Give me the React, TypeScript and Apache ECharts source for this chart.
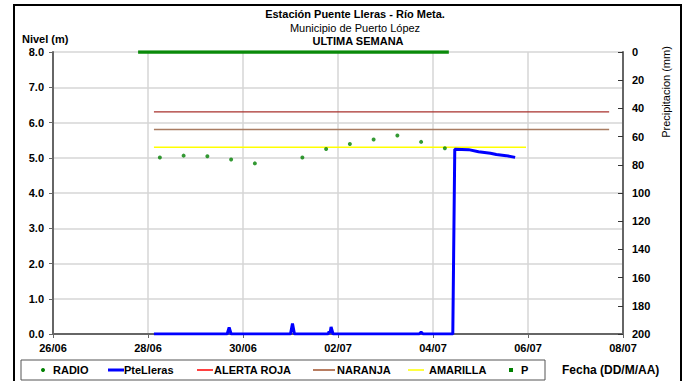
import React, { useEffect, useRef } from "react";
import * as echarts from "echarts";

const FONT = "'Liberation Sans', Arial, sans-serif";

// X axis tick labels (every 2 days from 26/06)
const xTickLabels = ["26/06", "28/06", "30/06", "02/07", "04/07", "06/07", "08/07"];

// RADIO readings (m)
const radioTimes = [
  "28/06 06:00", "28/06 18:00", "29/06 06:00", "29/06 18:00", "30/06 06:00",
  "01/07 06:00", "01/07 18:00", "02/07 06:00", "02/07 18:00", "03/07 06:00",
  "03/07 18:00", "04/07 06:00",
];
const radioValues = [5.01, 5.06, 5.04, 4.95, 4.84, 5.01, 5.25, 5.39, 5.52, 5.63, 5.45, 5.27];

// PteLleras sensor level (m)
const levelTimes = [
  "28/06 03:00", "29/06 16:00", "29/06 17:00", "29/06 18:00", "01/07 00:00",
  "01/07 01:00", "01/07 02:00", "01/07 19:00", "01/07 19:30", "01/07 20:00",
  "01/07 20:30", "01/07 21:30", "03/07 17:00", "03/07 18:00", "03/07 19:00",
  "04/07 10:00", "04/07 11:00", "04/07 18:00", "04/07 23:00", "05/07 05:00",
  "05/07 08:00", "05/07 13:00", "05/07 17:30",
];
const levelValues = [
  0, 0, 0.19, 0, 0,
  0.3, 0, 0, 0.07, 0.03,
  0.2, 0, 0, 0.05, 0,
  0, 5.24, 5.23, 5.17, 5.13,
  5.09, 5.06, 5.01,
];

// Alert thresholds (m)
const alertaRoja = 6.3;
const naranja = 5.8;
const amarilla = 5.3;
const alertStart = "28/06 03:00";
const rojaEnd = "07/07 17:00";
const naranjaEnd = "07/07 17:00";
const amarillaEnd = "05/07 23:00";

// Precipitation P (mm)
const pTimes = ["27/06 19:00", "04/07 08:00"];
const pValues = [0, 0];

// day offset from 26/06 00:00
const dayOf = (s: string): number => {
  const [d, t] = s.split(" ");
  const [dd, mm] = d.split("/").map(Number);
  const [hh, mi] = (t || "00:00").split(":").map(Number);
  const base = mm === 6 ? dd - 26 : dd + 4;
  return base + (hh + mi / 60) / 24;
};

const pairs = (times: string[], vals: number[]) => times.map((t, i) => [dayOf(t), vals[i]]);

export default function App() {
  const ref = useRef<HTMLDivElement>(null);
  useEffect(() => {
    document.body.style.margin = "0";
    const chart = echarts.init(ref.current!, null, { renderer: "svg" });
    const axisLabel = { fontFamily: FONT, fontSize: 11, fontWeight: "bold", color: "#000" };
    const gridLine = { show: true, lineStyle: { color: "#d6d6d6", width: 1.5 } };
    const axisLine = { show: true, lineStyle: { color: "#666", width: 2 } };
    const legendY = 370;
    const legendText = (x: number, text: string) => ({
      type: "text", x, y: legendY,
      style: { text, font: `bold 11px ${FONT}`, fill: "#000", textVerticalAlign: "middle" },
    });
    const legendLine = (x1: number, x2: number, color: string, w: number) => ({
      type: "line", shape: { x1, y1: legendY, x2, y2: legendY },
      style: { stroke: color, lineWidth: w },
    });
    chart.setOption({
      animation: false,
      backgroundColor: "#fff",
      grid: { left: 53, right: 63, top: 52, bottom: 47, containLabel: false },
      xAxis: {
        type: "value", min: 0, max: 12, interval: 2,
        axisLine, axisTick: { show: true, length: 4, lineStyle: { color: "#666" } },
        axisLabel: { ...axisLabel, margin: 8, formatter: (v: number) => xTickLabels[Math.round(v / 2)] ?? "" },
        splitLine: gridLine,
      },
      yAxis: [
        {
          type: "value", min: 0, max: 8, interval: 1,
          axisLine, axisTick: { show: true, length: 4, lineStyle: { color: "#666" } },
          axisLabel: { ...axisLabel, margin: 9, formatter: (v: number) => v.toFixed(1) },
          splitLine: gridLine,
        },
        {
          type: "value", min: 0, max: 200, interval: 20, inverse: true, position: "right",
          axisLine, axisTick: { show: true, inside: true, length: 5, lineStyle: { color: "#333" } },
          axisLabel: { ...axisLabel, margin: 9 },
          splitLine: { show: false },
        },
      ],
      series: [
        {
          name: "RADIO", type: "scatter", data: pairs(radioTimes, radioValues),
          symbol: "circle", symbolSize: 4, itemStyle: { color: "#008000" }, z: 5,
        },
        {
          name: "PteLleras", type: "line", data: pairs(levelTimes, levelValues),
          showSymbol: false, lineStyle: { color: "#0000ff", width: 3 }, z: 4,
        },
        {
          name: "ALERTA ROJA", type: "line", data: [[dayOf(alertStart), alertaRoja], [dayOf(rojaEnd), alertaRoja]],
          showSymbol: false, lineStyle: { color: "#a8302c", width: 1.2 },
        },
        {
          name: "NARANJA", type: "line", data: [[dayOf(alertStart), naranja], [dayOf(naranjaEnd), naranja]],
          showSymbol: false, lineStyle: { color: "#a97c62", width: 1.5 },
        },
        {
          name: "AMARILLA", type: "line", data: [[dayOf(alertStart), amarilla], [dayOf(amarillaEnd), amarilla]],
          showSymbol: false, lineStyle: { color: "#ffff00", width: 1.5 },
        },
        {
          name: "P", type: "line", yAxisIndex: 1, data: pairs(pTimes, pValues),
          showSymbol: false, lineStyle: { color: "#0a8a0a", width: 3.5 }, z: 6,
        },
      ],
      graphic: [
        {
          type: "rect", shape: { x: 14, y: 5, width: 667, height: 400 },
          style: { fill: "none", stroke: "#000", lineWidth: 2 }, silent: true,
        },
        {
          type: "text", x: 355, y: 14,
          style: { text: "Estación Puente Lleras - Río Meta.", font: `bold 11px ${FONT}`, fill: "#000", textAlign: "center", textVerticalAlign: "middle" },
        },
        {
          type: "text", x: 355, y: 28,
          style: { text: "Municipio de Puerto López", font: `11px ${FONT}`, fill: "#000", textAlign: "center", textVerticalAlign: "middle" },
        },
        {
          type: "text", x: 358, y: 41,
          style: { text: "ULTIMA SEMANA", font: `bold 11px ${FONT}`, fill: "#000", textAlign: "center", textVerticalAlign: "middle" },
        },
        {
          type: "text", x: 22, y: 39,
          style: { text: "Nivel (m)", font: `bold 11px ${FONT}`, fill: "#000", textVerticalAlign: "middle" },
        },
        {
          type: "text", x: 666, y: 92, rotation: Math.PI / 2,
          style: { text: "Precipitacion (mm)", font: `11px ${FONT}`, fill: "#000", textAlign: "center", textVerticalAlign: "middle" },
        },
        {
          type: "rect", shape: { x: 21, y: 360, width: 524, height: 20 },
          style: { fill: "#fff", stroke: "#555", lineWidth: 1 },
        },
        { type: "circle", shape: { cx: 43, cy: legendY, r: 2 }, style: { fill: "#008000" } },
        legendText(53, "RADIO"),
        legendLine(108, 124, "#0000ff", 3),
        legendText(124, "PteLleras"),
        legendLine(197, 213, "#ff0000", 1.5),
        legendText(214, "ALERTA ROJA"),
        legendLine(313, 335, "#a0522d", 1.5),
        legendText(337, "NARANJA"),
        legendLine(408, 424, "#ffff00", 1.5),
        legendText(429, "AMARILLA"),
        { type: "rect", shape: { x: 509, y: legendY - 2, width: 4, height: 4 }, style: { fill: "#008000" } },
        legendText(521, "P"),
        {
          type: "text", x: 562, y: legendY,
          style: { text: "Fecha (DD/M/AA)", font: `bold 12px ${FONT}`, fill: "#000", textVerticalAlign: "middle" },
        },
      ],
    });
    return () => chart.dispose();
  }, []);
  return (
    <div
      ref={ref}
      style={{ position: "fixed", left: 0, top: 0, width: 686, height: 381, background: "#fff" }}
    />
  );
}
